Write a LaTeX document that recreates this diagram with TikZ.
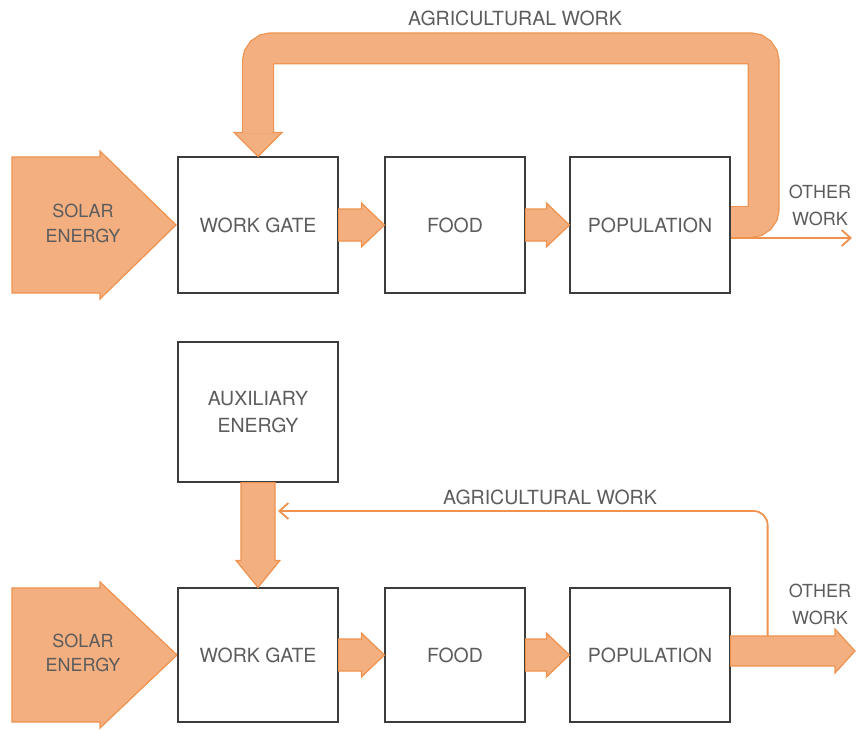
\documentclass[tikz,border=0pt]{standalone}
\usepackage{fontspec}
\setmainfont{TeX Gyre Heros}
\usetikzlibrary{%
	calc,%
	arrows.meta%
}

\definecolor{flowfill}{RGB}{243,175,128}
\definecolor{flowedge}{RGB}{238,146,78}
\definecolor{boxline}{RGB}{60,60,60}
\definecolor{ink}{RGB}{92,92,92}

\tikzset{
	block/.style={draw=boxline, line width=1.2pt, fill=white, minimum width=160pt,
		minimum height=136pt, inner sep=0pt, align=center, text=ink,
		font=\fontsize{19.5}{27}\selectfont},
	side/.style={inner sep=0pt, align=center, text=ink, font=\fontsize{18}{27}\selectfont},
	tag/.style={inner sep=0pt, text=ink, font=\fontsize{19.5}{24}\selectfont},
	flow/.style={fill=flowfill, draw=flowedge, line width=1.2pt},
	band/.style={draw=flowedge, line width=1.2pt, double=flowfill, double distance=29.6pt,
		rounded corners=13pt},
	thinflow/.style={draw=flowedge, line width=1.8pt, -{Straight Barb[length=9pt,width=16pt]}}
}

% broad arrow from #1 to #2: half shaft, half head, head length
\newcommand{\flowh}[5]{%
	\filldraw[flow] ($(#1)+(0,#3)$) -- ($(#2)+(-#5,#3)$) -- ($(#2)+(-#5,#4)$) -- (#2)
		-- ($(#2)+(-#5,-#4)$) -- ($(#2)+(-#5,-#3)$) -- ($(#1)+(0,-#3)$) -- cycle;}
\newcommand{\flowv}[5]{%
	\filldraw[flow] ($(#1)+(-#3,0)$) -- ($(#2)+(-#3,-#5)$) -- ($(#2)+(-#4,-#5)$) -- (#2)
		-- ($(#2)+(#4,-#5)$) -- ($(#2)+(#3,-#5)$) -- ($(#1)+(#3,0)$) -- cycle;}

\begin{document}
\begin{tikzpicture}[x=1pt,y=-1pt]
	\useasboundingbox (0,0) rectangle (856,730);

	%% Upper scheme
	% Solar input
	\filldraw[flow] (12,157) -- (100,157) -- (100,151) -- (176,225) -- (100,299)
		-- (100,293) -- (12,293) -- cycle;
	\node[side, font=\fontsize{18}{25}\selectfont] (sun1) at (83,223) {SOLAR\\ENERGY};

	\node[block] (gate1) at (258,225) {WORK GATE};
	\node[block, minimum width=140pt] (food1) at (455,225) {FOOD};
	\node[block] (pop1) at (650,225) {POPULATION};

	\flowh{gate1.east}{food1.west}{16}{22}{23}
	\flowh{food1.east}{pop1.west}{16}{22}{23}

	% what is left over
	\coordinate (out1) at (852,238);
	\draw[thinflow] ($(pop1.east)+(0,13)$) -- (out1);
	\node[side] (other1) at (820,205) {OTHER\\WORK};

	% work fed back to the gate
	\filldraw[flow] ($(gate1.north)+(-24,-24)$) -- (gate1.north) -- ($(gate1.north)+(24,-24)$) -- cycle;
	\draw[band] ($(pop1.east)+(0.6,-3)$) -- ++(32.4,0) |- ($(gate1.north)+(0,-108)$)
		-- ($(gate1.north)+(0,-23)$);
	\node[tag] (agri1) at (515,18) {AGRICULTURAL WORK};

	%% Lower scheme
	% Solar input
	\filldraw[flow] (12,588) -- (100,588) -- (100,582) -- (177,655) -- (100,728)
		-- (100,722) -- (12,722) -- cycle;
	\node[side, font=\fontsize{18}{24}\selectfont] (sun2) at (83,653) {SOLAR\\ENERGY};

	\node[block, minimum height=140pt] (aux) at (258,412) {AUXILIARY\\ENERGY};
	\node[block, minimum height=134pt] (gate2) at (258,655) {WORK GATE};
	\node[block, minimum width=140pt, minimum height=134pt] (food2) at (455,655) {FOOD};
	\node[block, minimum height=134pt] (pop2) at (650,655) {POPULATION};

	\flowh{gate2.east}{food2.west}{16}{22}{23}
	\flowh{food2.east}{pop2.west}{16}{22}{23}

	% thin return line
	\coordinate (back) at (278,511);
	\draw[thinflow, rounded corners=14pt] ($(pop2.east)+(37,-19)$) |- (back);
	\node[tag] (agri2) at (550,497) {AGRICULTURAL WORK};

	\flowv{aux.south}{gate2.north}{17}{22}{27}

	% what is left over
	\coordinate (pout) at ($(pop2.east)+(0,-4)$);
	\coordinate (out2) at (855,651);
	\flowh{pout}{out2}{15}{22}{20}
	\node[side] (other2) at (820,604) {OTHER\\WORK};
\end{tikzpicture}
\end{document}
